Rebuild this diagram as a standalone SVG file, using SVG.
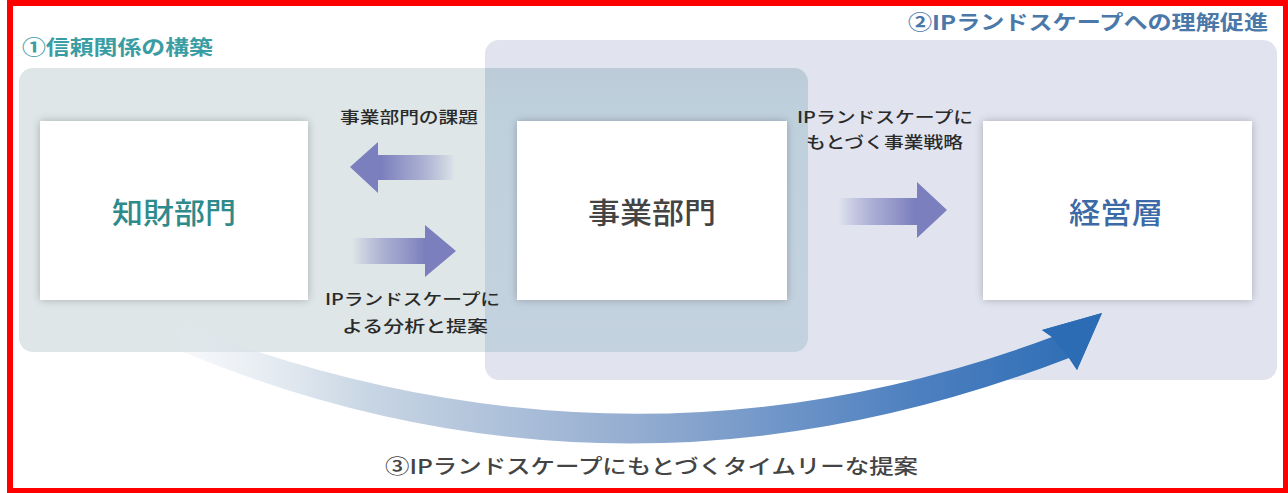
<svg xmlns="http://www.w3.org/2000/svg" width="1288" height="493" viewBox="0 0 1288 493">
<defs>
<style>
.jp{font-family:"Noto Sans CJK JP","Noto Sans CJK SC",sans-serif;}
.title{font-size:20px;font-weight:bold;}
.lbl{font-size:16px;font-weight:500;fill:#2a2a2a;}
.node{fill:#ffffff;}
.ntxt{font-size:29px;font-weight:500;}
</style>
<filter id="sh" x="-10%" y="-10%" width="120%" height="125%">
<feGaussianBlur in="SourceAlpha" stdDeviation="4"/>
<feOffset dx="0" dy="0" result="b"/>
<feComponentTransfer><feFuncA type="linear" slope="0.25"/></feComponentTransfer>
<feMerge><feMergeNode/><feMergeNode in="SourceGraphic"/></feMerge>
</filter>
<linearGradient id="arrL" x1="1" y1="0" x2="0" y2="0">
<stop offset="0" stop-color="#7b7fbd" stop-opacity="0"/>
<stop offset="0.35" stop-color="#8d91c6" stop-opacity="0.7"/>
<stop offset="0.7" stop-color="#7b7fbd"/>
<stop offset="1" stop-color="#7b7fbd"/>
</linearGradient>
<linearGradient id="arrR" x1="0" y1="0" x2="1" y2="0">
<stop offset="0" stop-color="#7b7fbd" stop-opacity="0"/>
<stop offset="0.35" stop-color="#8d91c6" stop-opacity="0.7"/>
<stop offset="0.7" stop-color="#7b7fbd"/>
<stop offset="1" stop-color="#7b7fbd"/>
</linearGradient>
<linearGradient id="big" gradientUnits="userSpaceOnUse" x1="180" y1="0" x2="1100" y2="0">
<stop offset="0" stop-color="#e4eaf0" stop-opacity="0.3"/>
<stop offset="0.2" stop-color="#c9d6e4"/>
<stop offset="0.5" stop-color="#93acd0"/>
<stop offset="0.8" stop-color="#4d80c0"/>
<stop offset="1" stop-color="#2b6cb4"/>
</linearGradient>
<linearGradient id="ovl" x1="0" y1="0" x2="0" y2="1">
<stop offset="0" stop-color="#bccbd7"/>
<stop offset="0.15" stop-color="#bfd0dd"/>
<stop offset="1" stop-color="#c3d2de"/>
</linearGradient>
</defs>

<rect x="0" y="0" width="1288" height="493" fill="#ffffff"/>

<g id="region2">
<rect x="485" y="40" width="792" height="340" rx="14" fill="#e1e4ef"/>
</g>
<g id="region1">
<rect x="19" y="68" width="789" height="284" rx="14" fill="#dee6e8"/>
<path d="M485 68 H794 A14 14 0 0 1 808 82 V338 A14 14 0 0 1 794 352 H485 Z" fill="url(#ovl)"/>
</g>

<g id="connectors">
<path d="M185 326 Q626 496 1052 337 L1042 330 L1102 313 L1077 370 L1069 358 Q616 533 178 350 Z" fill="url(#big)"/>
<path d="M1052 337 L1042 330 L1102 313 L1077 370 L1069 358 Z" fill="#2b6cb4"/>
<path d="M455 155 H378 V142 L350 167 L378 193 V180 H455 Z" fill="url(#arrL)"/>
<path d="M352 238 H425 V225 L456 251 L425 277 V264 H352 Z" fill="url(#arrR)"/>
<path d="M838 198 H917 V182 L947 210 L917 238 V225 H838 Z" fill="url(#arrR)"/>
</g>

<g id="node-chizai">
<rect class="node" x="40" y="121" width="268" height="179" filter="url(#sh)"/>
<text class="jp ntxt" x="174" y="224" text-anchor="middle" fill="#2f8a8c" textLength="124" lengthAdjust="spacingAndGlyphs">知財部門</text>
</g>
<g id="node-jigyo">
<rect class="node" x="517" y="121" width="270" height="179" filter="url(#sh)"/>
<text class="jp ntxt" x="652" y="224" text-anchor="middle" fill="#444444" textLength="128" lengthAdjust="spacingAndGlyphs">事業部門</text>
</g>
<g id="node-keiei">
<rect class="node" x="983" y="121" width="269" height="179" filter="url(#sh)"/>
<text class="jp ntxt" x="1116" y="224" text-anchor="middle" fill="#3b6aa6" textLength="94" lengthAdjust="spacingAndGlyphs">経営層</text>
</g>

<g id="labels">
<text class="jp title" x="22" y="55" fill="#3a9da3" textLength="191" lengthAdjust="spacingAndGlyphs">①信頼関係の構築</text>
<text class="jp title" x="908" y="30" fill="#4a78a8" textLength="360" lengthAdjust="spacingAndGlyphs">②IPランドスケープへの理解促進</text>
<text class="jp lbl" x="340" y="123" textLength="138" lengthAdjust="spacingAndGlyphs">事業部門の課題</text>
<text class="jp lbl" x="325" y="305" textLength="175" lengthAdjust="spacingAndGlyphs">IPランドスケープに</text>
<text class="jp lbl" x="342" y="332" textLength="146" lengthAdjust="spacingAndGlyphs">よる分析と提案</text>
<text class="jp lbl" x="797" y="123" textLength="176" lengthAdjust="spacingAndGlyphs">IPランドスケープに</text>
<text class="jp lbl" x="806" y="148" textLength="157" lengthAdjust="spacingAndGlyphs">もとづく事業戦略</text>
<text class="jp" x="385" y="474" font-size="20" font-weight="500" fill="#444444" textLength="533" lengthAdjust="spacingAndGlyphs">③IPランドスケープにもとづくタイムリーな提案</text>
</g>

<g id="frame">
<rect x="10" y="3" width="1276" height="488" fill="none" stroke="#ff0000" stroke-width="6"/>
</g>
</svg>
